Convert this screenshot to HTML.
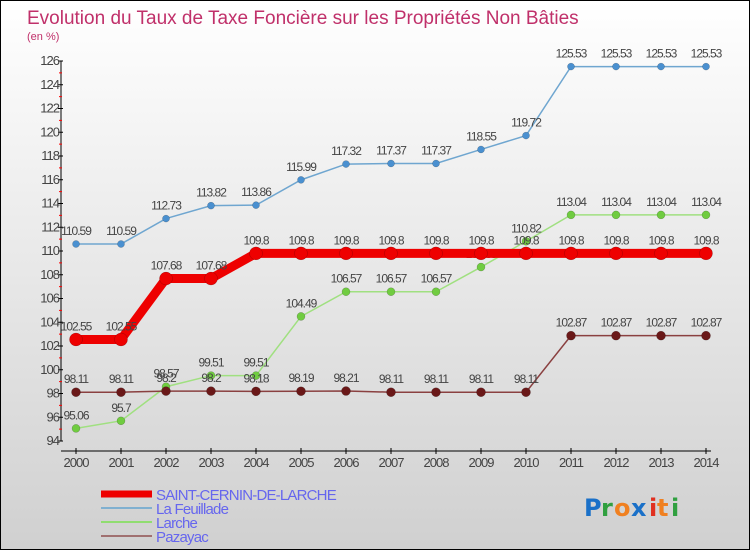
<!DOCTYPE html>
<html><head><meta charset="utf-8"><style>
html,body{margin:0;padding:0}
body{width:750px;height:550px;overflow:hidden;font-family:"Liberation Sans",sans-serif}
#wrap{position:relative;width:748px;height:548px;border:1px solid #000;background:linear-gradient(#ffffff,#d0d0d0)}
</style></head><body>
<div id="wrap">
<svg id="chart" width="748" height="548" style="position:absolute;left:0;top:0">
<text x="26" y="23" font-size="19" fill="#c0306a">Evolution du Taux de Taxe Foncière sur les Propriétés Non Bâties</text>
<text x="26" y="39" font-size="11" fill="#c0306a">(en %)</text>
<g id="axes"></g><g id="series"></g><g id="legend"></g>
<g font-size="24" font-weight="bold" font-family="'DejaVu Sans',sans-serif">
<text x="583" y="515" fill="#1a70c8">P</text><text x="600" y="515" fill="#30a040">r</text><text x="613" y="515" fill="#f08020">o</text><text x="630" y="515" fill="#1a70c8">x</text><text x="648" y="515" fill="#e03020">i</text><text x="656" y="515" fill="#f08020">t</text><text x="670" y="515" fill="#30a040">i</text>
</g>
</svg>
</div>
<script>
const years=[2000,2001,2002,2003,2004,2005,2006,2007,2008,2009,2010,2011,2012,2013,2014];
const yTicks=[94,96,98,100,102,104,106,108,110,112,114,116,118,120,122,124,126];
const seriesNames=["SAINT-CERNIN-DE-LARCHE","La Feuillade","Larche","Pazayac"];
const saintCernin=[102.55,102.55,107.68,107.68,109.8,109.8,109.8,109.8,109.8,109.8,109.8,109.8,109.8,109.8,109.8];
const laFeuillade=[110.59,110.59,112.73,113.82,113.86,115.99,117.32,117.37,117.37,118.55,119.72,125.53,125.53,125.53,125.53];
const larche=[95.06,95.7,98.57,99.51,99.51,104.49,106.57,106.57,106.57,108.65,110.82,113.04,113.04,113.04,113.04];
const pazayac=[98.11,98.11,98.2,98.2,98.18,98.19,98.21,98.11,98.11,98.11,98.11,102.87,102.87,102.87,102.87];
const NS="http://www.w3.org/2000/svg";
const X=i=>75+i*45;
const Y=v=>440-(v-94)*(380/32);
function mk(p,t,a){const e=document.createElementNS(NS,t);for(const k in a)e.setAttribute(k,a[k]);p.appendChild(e);return e;}
const ax=document.getElementById('axes');
const yl=mk(ax,'line',{x1:60,y1:Y(126),x2:60,y2:Y(94),stroke:'#000'});


const xl=mk(ax,'line',{x1:60,y1:450,x2:710,y2:450,stroke:'#000'});


yTicks.forEach((t,i)=>{
  mk(ax,'line',{x1:57,x2:62,y1:Y(t),y2:Y(t),stroke:'#000'});
  if(i<yTicks.length-1) mk(ax,'line',{x1:58,x2:61,y1:Y(t+1),y2:Y(t+1),stroke:'#f00'});
  const tx=mk(ax,'text',{x:58,y:Y(t)+4,'font-size':13,fill:'#444','text-anchor':'end','letter-spacing':'-1'});
  tx.textContent=t;
  
  
});
years.forEach((y,i)=>{
  mk(ax,'line',{x1:X(i),x2:X(i),y1:447,y2:453,stroke:'#000'});
  const tx=mk(ax,'text',{x:X(i),y:466,'font-size':13,fill:'#444','text-anchor':'middle','letter-spacing':'-1'});
  tx.textContent=y;
  
  
});
const sg=document.getElementById('series');
const defs=[
 {d:laFeuillade,c:'#6fa6d0',pc:'#4a90d0',w:1.5,r:3.5,n:'la-feuillade'},
 {d:larche,c:'#a0e080',pc:'#70cc40',w:1.5,r:4,n:'larche'},
 {d:pazayac,c:'#8a4040',pc:'#6a1818',w:1.5,r:4.5,n:'pazayac'},
 {d:saintCernin,c:'#ee0000',pc:'#ee0000',w:9,r:6.5,n:'saint-cernin-de-larche'}
];
defs.forEach(s=>{
  const g=mk(sg,'g',{});
  
  
  const pl=mk(g,'polyline',{points:s.d.map((v,i)=>X(i)+','+Y(v)).join(' '),fill:'none',stroke:s.c,'stroke-width':s.w});
  
  
  s.d.forEach((v,i)=>{
    const c=mk(g,'circle',{cx:X(i),cy:Y(v),r:s.r,fill:s.pc,stroke:'rgba(0,0,0,0.3)','stroke-width':0.5});
    
    
    const t=mk(g,'text',{x:X(i),y:Y(v)-9,'font-size':12,fill:'#444','text-anchor':'middle','letter-spacing':'-1'});
    t.textContent=v;
    
    
  });
});
const lg=document.getElementById('legend');
const lc=[['#ee0000',7],['#80b0d0',2],['#90dd70',2],['#a07070',2]];
seriesNames.forEach((n,i)=>{
  const y=493+i*14;
  const g=mk(lg,'g',{});
  
  
  mk(g,'line',{x1:100,x2:151,y1:y,y2:y,stroke:lc[i][0],'stroke-width':lc[i][1]});
  const t=mk(g,'text',{x:155,y:y+6,'font-size':15,fill:'#6666ee','letter-spacing':'-0.8'});
  t.textContent=n;
});
</script>
</body></html>
